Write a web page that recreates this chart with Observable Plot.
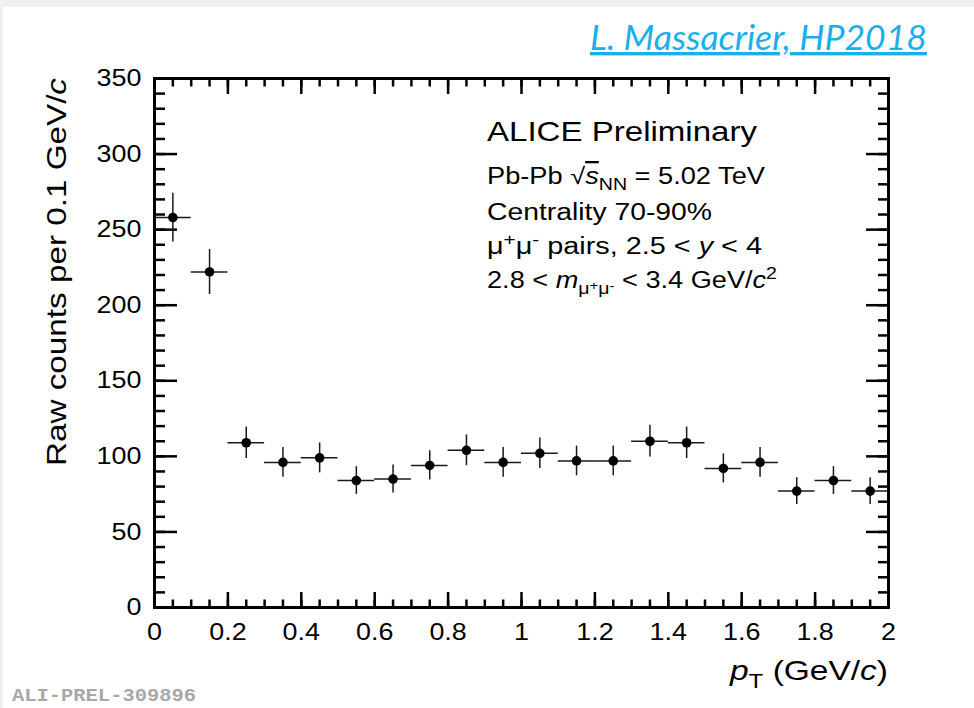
<!DOCTYPE html>
<html><head><meta charset="utf-8">
<script src="https://cdn.jsdelivr.net/npm/d3@7"></script>
<script src="https://cdn.jsdelivr.net/npm/@observablehq/plot@0.6"></script>
<style>
html,body{margin:0;padding:0;background:#f0f0f0;width:974px;height:708px;overflow:hidden;}
#wrap{position:absolute;left:3px;top:7px;width:971px;height:701px;background:#fff;}
</style></head><body><div id="wrap"></div>
<script>
// ---- data ----
const ptCenters = [0.05,0.15,0.25,0.35,0.45,0.55,0.65,0.75,0.85,0.95,1.05,1.15,1.25,1.35,1.45,1.55,1.65,1.75,1.85,1.95];
const binLow    = [0.0,0.1,0.2,0.3,0.4,0.5,0.6,0.7,0.8,0.9,1.0,1.1,1.2,1.3,1.4,1.5,1.6,1.7,1.8,1.9];
const binHigh   = [0.1,0.2,0.3,0.4,0.5,0.6,0.7,0.8,0.9,1.0,1.1,1.2,1.3,1.4,1.5,1.6,1.7,1.8,1.9,2.0];
const counts    = [258,222,109,96,99,84,85,94,104,96,102,97,97,110,109,92,96,77,84,77];
const errors    = [16.1,14.9,10.4,9.8,9.9,9.2,9.2,9.7,10.2,9.8,10.1,9.8,9.8,10.5,10.4,9.6,9.8,8.8,9.2,8.8];
const yMajorTicks = [0,50,100,150,200,250,300,350];
const yMinorTicks = d3.range(0,351,10);
const xMajorTicks = [0,0.2,0.4,0.6,0.8,1,1.2,1.4,1.6,1.8,2];
const xMinorTicks = d3.range(0,41).map(i => i/20);
const yTitle = "Raw counts per 0.1 GeV/";
const headerText = "L. Massacrier, HP2018";
const prelimId = "ALI-PREL-309896";

const data = ptCenters.map((x,i) => ({x, lo: binLow[i], hi: binHigh[i], v: counts[i], e: errors[i]}));

const W = 971, H = 701;
const FONT = "'Liberation Sans', Arial, Helvetica, sans-serif";
const tk = {stroke:"#000", strokeWidth:2.5, label:null, fill:"none"};
const fmt = d => String(d);

const plot = Plot.plot({
  width: W, height: H,
  marginLeft: 151, marginRight: 86, marginTop: 71, marginBottom: 101,
  x: {domain: [0, 2]},
  y: {domain: [0, 350]},
  style: {fontFamily: FONT, background: "transparent", color: "#000", overflow: "visible"},
  marks: [
    // inward ticks on all four sides
    Plot.axisY(yMinorTicks, {...tk, anchor: "left", tickSize: -11}),
    Plot.axisY(yMajorTicks, {...tk, anchor: "left", tickSize: -23}),
    Plot.axisY(yMinorTicks, {...tk, anchor: "right", tickSize: -11}),
    Plot.axisY(yMajorTicks, {...tk, anchor: "right", tickSize: -23}),
    Plot.axisX(xMinorTicks, {...tk, anchor: "bottom", tickSize: -7.5}),
    Plot.axisX(xMajorTicks, {...tk, anchor: "bottom", tickSize: -15}),
    Plot.axisX(xMinorTicks, {...tk, anchor: "top", tickSize: -7.5}),
    Plot.axisX(xMajorTicks, {...tk, anchor: "top", tickSize: -15}),
    // tick labels
    Plot.axisY(yMajorTicks, {anchor: "left", tickSize: 0, tickPadding: 13, fontSize: 24, label: null, tickFormat: fmt, fill: "#000"}),
    Plot.axisX(xMajorTicks, {anchor: "bottom", tickSize: 0, tickPadding: 15, fontSize: 24, label: null, tickFormat: fmt, fill: "#000"}),
    Plot.frame({stroke: "#000", strokeWidth: 3}),
    // data
    Plot.ruleY(data, {y: "v", x1: "lo", x2: "hi", stroke: "#1a1a1a", strokeWidth: 1.5}),
    Plot.ruleX(data, {x: "x", y1: d => d.v - d.e, y2: d => d.v + d.e, stroke: "#1a1a1a", strokeWidth: 1.5}),
    Plot.dot(data, {x: "x", y: "v", r: 4.8, fill: "#000", stroke: "none"})
  ]
});
document.getElementById("wrap").appendChild(plot);

const svg = d3.select(plot.tagName.toLowerCase() === "svg" ? plot : plot.querySelector("svg"));

// stretch tick labels to match reference glyph widths
svg.selectAll('g[aria-label="y-axis tick label"] text, g[aria-label="x-axis tick label"] text').each(function() {
  const w = this.getComputedTextLength();
  this.setAttribute("textLength", (w * 1.12).toFixed(1));
  this.setAttribute("lengthAdjust", "spacingAndGlyphs");
});

function rich(x, y, segs, o) {
  const t = svg.append("text")
    .attr("x", x).attr("y", y)
    .attr("font-family", o.family || FONT)
    .attr("font-size", o.size)
    .attr("fill", o.fill || "#000")
    .attr("text-anchor", o.anchor || "start");
  if (o.transform) t.attr("transform", o.transform).attr("x", 0).attr("y", 0);
  if (o.weight) t.attr("font-weight", o.weight);
  if (o.style) t.attr("font-style", o.style);
  if (o.decoration) t.style("text-decoration", o.decoration);
  let cur = 0;
  for (const [s, f = {}] of segs) {
    let size = o.size, shift = 0;
    if (f.sub) { size = o.size * 0.72; shift = o.size * 0.28; }
    if (f.sup) { size = o.size * 0.72; shift = -o.size * 0.38; }
    if (f.subsup) { size = o.size * 0.55; shift = o.size * 0.1; }
    const ts = t.append("tspan").text(s).attr("font-size", size);
    if (shift - cur !== 0) ts.attr("dy", (shift - cur).toFixed(2));
    cur = shift;
    if (f.italic) ts.attr("font-style", "italic");
    if (f.over) ts.style("text-decoration", "overline");
  }
  if (o.length) t.attr("textLength", o.length).attr("lengthAdjust", "spacingAndGlyphs");
  return t;
}

// axis titles
rich(0, 0, [[yTitle], ["c", {italic: true}]], {size: 28, anchor: "middle", transform: "translate(63,265) rotate(-90)", length: 388});
rich(885, 673, [["p", {italic: true}], ["T", {sub: true}], [" (GeV/"], ["c", {italic: true}], [")"]], {size: 28, anchor: "end", length: 158});

// legend block
rich(484, 134, [["ALICE Preliminary"]], {size: 28, length: 270});
rich(484, 177, [["Pb-Pb "], ["\u221A"], ["s", {italic: true, over: true}], ["NN", {sub: true}], [" = 5.02 TeV"]], {size: 23, length: 278});
rich(484, 213, [["Centrality 70-90%"]], {size: 23, length: 225});
rich(484, 247, [["\u03BC"], ["+", {sup: true}], ["\u03BC"], ["-", {sup: true}], [" pairs, 2.5 < "], ["y", {italic: true}], [" < 4"]], {size: 23, length: 275});
rich(484, 281, [["2.8 < "], ["m", {italic: true}], ["\u03BC", {sub: true}], ["+", {subsup: true}], ["\u03BC", {sub: true}], ["-", {subsup: true}], [" < 3.4 GeV/"], ["c", {italic: true}], ["2", {sup: true}]], {size: 23, length: 290});

// header and preliminary id
rich(587, 43, [[headerText]], {size: 34, family: "Lato, 'Open Sans', sans-serif", style: "italic", fill: "#19afe9", decoration: "underline", length: 337});
rich(9, 694, [[prelimId]], {size: 18, family: "'Liberation Mono', 'DejaVu Sans Mono', monospace", weight: "bold", fill: "#a8a8a8", length: 184});
</script>
</body></html>
